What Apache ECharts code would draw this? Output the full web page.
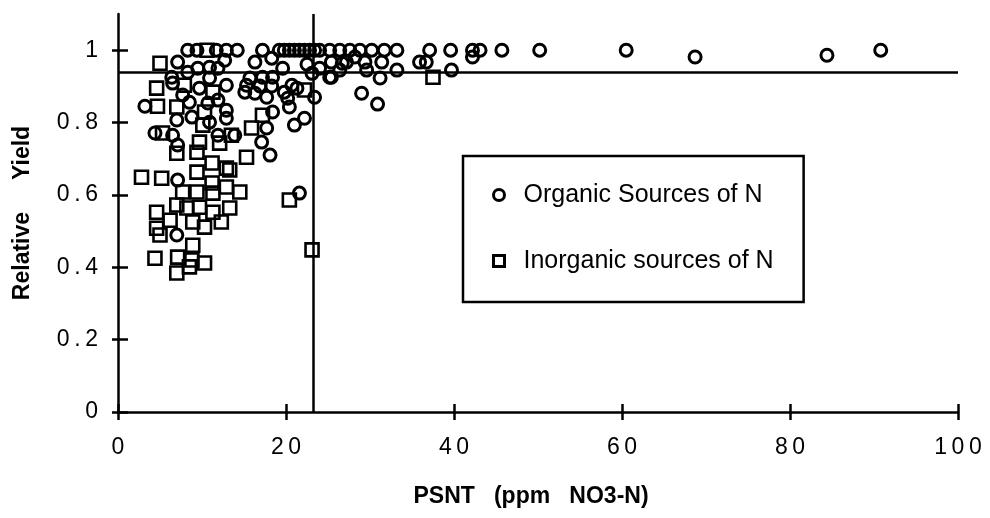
<!DOCTYPE html>
<html>
<head>
<meta charset="utf-8">
<title>PSNT vs Relative Yield</title>
<script src="https://cdn.jsdelivr.net/npm/echarts@6/dist/echarts.min.js"></script>
<style>
  html, body { margin: 0; padding: 0; background: #fff; }
  #chart { width: 990px; height: 518px; }
</style>
</head>
<body>
<div id="chart"></div>
<script>
// Soil nitrate test (PSNT) against relative yield, split by nitrogen source.
const organic = [
  [8.3,1],[9.4,1],[11.7,1],[12.9,1],[14.2,1],[17.2,1],[19.2,1],[19.8,1],[20.4,1],[21.0,1],
  [21.6,1],[22.2,1],[22.8,1],[23.4,1],[24.0,1],[25.2,1],[26.4,1],[27.6,1],[28.8,1],[30.2,1],
  [31.7,1],[33.2,1],[37.1,1],[39.6,1],[42.2,1],[43.1,1],[45.7,1],[50.2,1],[60.5,1],[90.8,1],
  [68.7,0.981],[84.4,0.986],
  [16.3,0.967],[18.3,0.978],[22.5,0.961],[24.0,0.950],[25.4,0.967],[26.7,0.964],[19.6,0.950],
  [15.7,0.923],[17.2,0.925],[18.4,0.925],[25.2,0.925],[23.1,0.936],
  [15.3,0.903],[16.9,0.901],[18.3,0.901],[20.7,0.903],
  [15.1,0.884],[16.3,0.881],[17.7,0.870],[19.8,0.884],[20.2,0.867],[21.3,0.895],[23.4,0.870],
  [20.4,0.843],[18.4,0.829],[22.2,0.812],[21.0,0.793],[17.7,0.785],[13.9,0.765],[17.1,0.746],
  [18.1,0.710],[21.6,0.605],
  [27.2,0.967],[29.4,0.967],[31.4,0.967],[35.9,0.967],[36.7,0.967],[42.2,0.981],[29.6,0.945],
  [33.2,0.945],[39.7,0.945],[25.4,0.925],[31.2,0.923],[29.0,0.881],[30.9,0.851],
  [28.2,0.981],[26.4,0.945],
  [7.1,0.967],[9.5,0.950],[10.9,0.953],[11.9,0.950],[8.3,0.939],[6.4,0.925],[6.5,0.909],
  [9.7,0.895],[10.9,0.923],[12.9,0.903],[3.2,0.845],[8.5,0.856],[10.7,0.854],[12.9,0.834],
  [11.9,0.862],[7.0,0.807],[8.8,0.815],[10.9,0.801],[12.9,0.812],[4.4,0.771],[6.5,0.765],
  [11.9,0.765],[7.1,0.738],[7.1,0.641],[7.0,0.489],[7.7,0.876],[12.7,0.972]
];

const inorganic = [
  [10.6,1.0],[5.0,0.964],[4.6,0.895],[7.9,0.903],[11.3,0.884],[4.7,0.845],[7.0,0.843],
  [10.3,0.829],[10.1,0.793],[5.3,0.771],[13.5,0.765],[9.7,0.746],[12.1,0.743],[7.0,0.715],
  [9.4,0.718],[2.8,0.649],[5.2,0.646],[9.4,0.663],[11.2,0.688],[12.9,0.674],[7.7,0.608],
  [9.4,0.608],[11.2,0.633],[12.9,0.622],[11.3,0.605],[4.6,0.552],[7.0,0.572],[8.2,0.564],
  [9.7,0.566],[11.3,0.552],[13.3,0.564],[4.6,0.508],[6.2,0.530],[8.9,0.525],[10.3,0.511],
  [12.3,0.525],[5.0,0.489],[8.9,0.461],[4.4,0.425],[7.1,0.428],[8.8,0.420],[10.3,0.412],
  [7.0,0.384],[8.5,0.401],[13.3,0.669],[14.5,0.608],[15.3,0.704],[15.9,0.785],[17.2,0.820],
  [22.2,0.890],[20.4,0.586],[23.1,0.448],[37.5,0.925]
];

// Critical levels: sufficiency yield and the PSNT critical concentration
const criticalYield = 0.94;
const criticalPsnt = 23.2;

const xTicks = [0, 20, 40, 60, 80, 100];
const yTicks = [0, 0.2, 0.4, 0.6, 0.8, 1];

const seriesNames = ['Organic Sources of N', 'Inorganic sources of N'];
const xTitle = 'PSNT   (ppm   NO3-N)';
const yTitle = 'Relative     Yield';

const FONT = '"Liberation Sans", Arial, Helvetica, sans-serif';
const spaced = v => String(v).split('').join('\u2009');

const chart = echarts.init(document.getElementById('chart'), null, { renderer: 'canvas' });

const baseX = {
  type: 'value', min: 0, max: 100, interval: 20,
  splitLine: { show: false }
};
const baseY = {
  type: 'value', min: 0, max: 1.1, interval: 0.2,
  splitLine: { show: false }
};

const markerStyle = { color: 'rgba(255,255,255,0)', borderColor: '#000', borderWidth: 3, opacity: 1 };
const legendIconStyle = { color: 'rgba(255,255,255,0)', borderColor: '#000', borderWidth: 3 };

chart.setOption({
  animation: false,
  backgroundColor: '#fff',
  grid: { left: 118, right: 32, top: 14, bottom: 106, containLabel: false },
  xAxis: [
    Object.assign({}, baseX, {
      position: 'bottom',
      name: xTitle, nameLocation: 'middle', nameGap: 73,
      nameTextStyle: { fontFamily: FONT, fontWeight: 'bold', fontSize: 23, color: '#000', padding: [0, 14, 0, 0] },
      axisLine: { onZero: false, lineStyle: { color: '#000', width: 2.5 } },
      axisTick: { inside: false, length: 8, lineStyle: { color: '#000', width: 2.5 } },
      axisLabel: {
        margin: 24, color: '#000', fontFamily: FONT, fontSize: 23,
        formatter: v => xTicks.includes(v) ? spaced(v) : ''
      }
    }),
    Object.assign({}, baseX, {
      position: 'bottom',
      axisLine: { show: false },
      axisTick: { inside: true, length: 8, lineStyle: { color: '#000', width: 2.5 } },
      axisLabel: { show: false }
    })
  ],
  yAxis: [
    Object.assign({}, baseY, {
      position: 'left',
      name: yTitle, nameLocation: 'middle', nameRotate: 90, nameGap: 84,
      nameTextStyle: { fontFamily: FONT, fontWeight: 'bold', fontSize: 23, color: '#000' },
      axisLine: { onZero: false, lineStyle: { color: '#000', width: 2.5 } },
      axisTick: { inside: false, length: 6, customValues: yTicks, lineStyle: { color: '#000', width: 2.5 } },
      axisLabel: {
        margin: 20, color: '#000', fontFamily: FONT, fontSize: 23,
        customValues: yTicks,
        formatter: v => spaced(+v.toFixed(1))
      }
    }),
    Object.assign({}, baseY, {
      position: 'left',
      axisLine: { show: false },
      axisTick: { inside: true, length: 10, customValues: yTicks, lineStyle: { color: '#000', width: 2.5 } },
      axisLabel: { show: false }
    })
  ],
  legend: {
    data: [
      { name: seriesNames[0], icon: 'circle', itemStyle: legendIconStyle },
      { name: seriesNames[1], icon: 'rect', itemStyle: legendIconStyle }
    ],
    orient: 'vertical',
    left: 463, top: 156,
    backgroundColor: '#fff',
    borderColor: '#000', borderWidth: 2.5, borderRadius: 0,
    padding: [24, 30, 26, 29],
    itemGap: 36,
    itemWidth: 11, itemHeight: 11,
    selectedMode: false,
    itemStyle: legendIconStyle,
    textStyle: { fontFamily: FONT, fontSize: 25, color: '#000', lineHeight: 30, padding: [0, 0, 0, 14] }
  },
  series: [
    {
      name: seriesNames[0],
      type: 'scatter',
      xAxisIndex: 0, yAxisIndex: 0,
      symbol: 'circle', symbolSize: 12,
      itemStyle: markerStyle,
      emphasis: { disabled: true },
      data: organic,
      markLine: {
        silent: true, symbol: 'none', animation: false,
        label: { show: false },
        lineStyle: { color: '#000', width: 2.5, type: 'solid' },
        data: [{ yAxis: criticalYield }, { xAxis: criticalPsnt }]
      }
    },
    {
      name: seriesNames[1],
      type: 'scatter',
      xAxisIndex: 0, yAxisIndex: 0,
      symbol: 'rect', symbolSize: 13,
      itemStyle: Object.assign({}, markerStyle, { borderWidth: 2.6 }),
      emphasis: { disabled: true },
      data: inorganic
    }
  ]
});
</script>
</body>
</html>
